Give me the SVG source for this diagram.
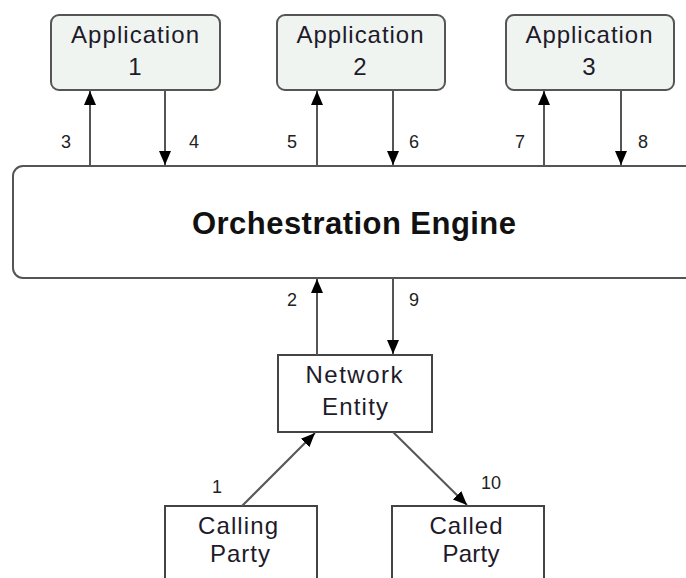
<svg xmlns="http://www.w3.org/2000/svg" width="686" height="578" viewBox="0 0 686 578">
<style>
.app{fill:#eff4f1;stroke:#555;stroke-width:2}
.box{fill:#fff;stroke:#444;stroke-width:2}
.eng{fill:#fff;stroke:#555;stroke-width:2}
.t{font-family:"Liberation Sans",Arial,sans-serif;font-size:24px;fill:#1e1a2a;text-anchor:middle}
.tb{font-family:"Liberation Sans",Arial,sans-serif;font-size:31px;font-weight:bold;fill:#111;text-anchor:middle}
.n{font-family:"Liberation Sans",Arial,sans-serif;font-size:18px;fill:#222;text-anchor:middle}
.c{stroke:#555;stroke-width:2;fill:none;marker-end:url(#ah)}
</style>
<defs>
<marker id="ah" markerUnits="userSpaceOnUse" markerWidth="14" markerHeight="16" refX="14" refY="6" orient="auto" viewBox="0 0 14 12">
<path d="M0,0 L14,6 L0,12 z" fill="#000"/>
</marker>
</defs>
<g id="engine">
<rect class="eng" x="13" y="166" width="700" height="112" rx="10"/>
<text class="tb" x="354" y="234" textLength="324">Orchestration Engine</text>
</g>
<g id="app1">
<rect class="app" x="51" y="15" width="169" height="75" rx="8"/>
<text class="t" x="135" y="43" textLength="128">Application</text>
<text class="t" x="135" y="75">1</text>
</g>
<g id="app2">
<rect class="app" x="277" y="15" width="168" height="75" rx="8"/>
<text class="t" x="360" y="43" textLength="127">Application</text>
<text class="t" x="360" y="75">2</text>
</g>
<g id="app3">
<rect class="app" x="506" y="15" width="168" height="75" rx="8"/>
<text class="t" x="589" y="43" textLength="127">Application</text>
<text class="t" x="589" y="75">3</text>
</g>
<g id="network">
<rect class="box" x="278" y="355" width="154" height="77"/>
<text class="t" x="354" y="383" textLength="97">Network</text>
<text class="t" x="355" y="415" textLength="66">Entity</text>
</g>
<g id="calling">
<rect class="box" x="165" y="506" width="152" height="90"/>
<text class="t" x="238" y="534" textLength="80">Calling</text>
<text class="t" x="240" y="562" textLength="60">Party</text>
</g>
<g id="called">
<rect class="box" x="392" y="506" width="152" height="90"/>
<text class="t" x="466" y="534" textLength="73">Called</text>
<text class="t" x="471" y="562" textLength="57">Party</text>
</g>
<g id="connectors">
<line class="c" x1="90" y1="166" x2="90" y2="91"/>
<line class="c" x1="165" y1="90" x2="165" y2="165"/>
<line class="c" x1="317" y1="166" x2="317" y2="91"/>
<line class="c" x1="393" y1="90" x2="393" y2="165"/>
<line class="c" x1="544" y1="166" x2="544" y2="91"/>
<line class="c" x1="621" y1="90" x2="621" y2="165"/>
<line class="c" x1="317" y1="355" x2="317" y2="279"/>
<line class="c" x1="393" y1="278" x2="393" y2="354"/>
<line class="c" x1="242" y1="506" x2="315" y2="433"/>
<line class="c" x1="393" y1="432" x2="467" y2="505"/>
<text class="n" x="66" y="148">3</text>
<text class="n" x="194" y="148">4</text>
<text class="n" x="292" y="148">5</text>
<text class="n" x="414" y="148">6</text>
<text class="n" x="520" y="148">7</text>
<text class="n" x="643" y="148">8</text>
<text class="n" x="292" y="306">2</text>
<text class="n" x="414" y="306">9</text>
<text class="n" x="217" y="493">1</text>
<text class="n" x="491" y="489">10</text>
</g>
</svg>
